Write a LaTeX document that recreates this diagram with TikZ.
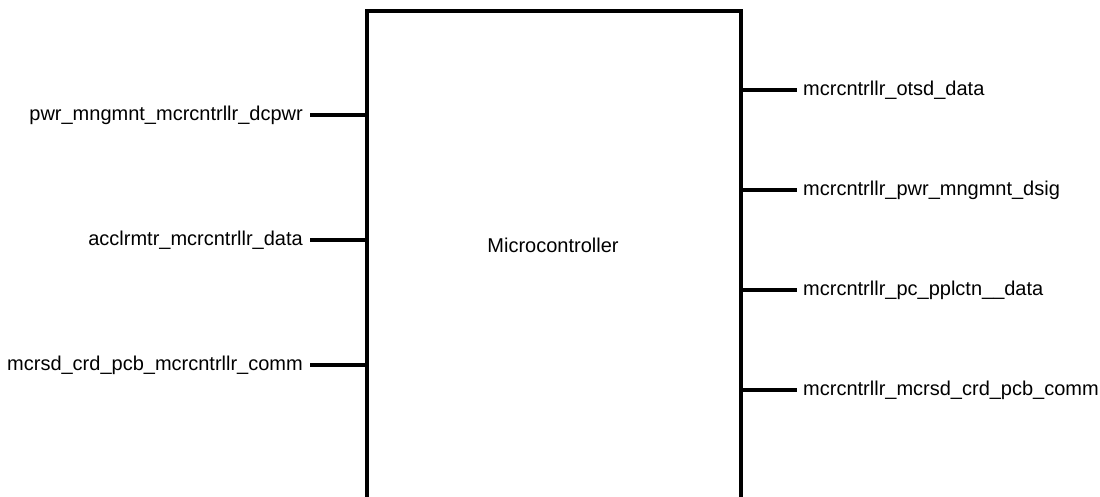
\documentclass[tikz,border=0pt]{standalone}
\usepackage{fontspec}
\setmainfont{Liberation Sans}
\usetikzlibrary{positioning}

\begin{document}
\begin{tikzpicture}[x=1pt,y=-1pt,font=\fontsize{20}{23}\selectfont,
  block/.style={draw,line width=4pt,outer sep=0pt,anchor=north west},
  port/.style={line width=4pt},
  sig/.style={inner sep=0pt}]
  \useasboundingbox (0,0) rectangle (1100,497);
  \clip (0,0) rectangle (1100,497);
  \node[block,minimum width=374pt,minimum height=540pt] (mcu) at (367,11) {};
  \node (mcuname) at (553,245) {Microcontroller};
  % inputs
  \coordinate (inA) at (310,115);
  \coordinate (inB) at (310,240);
  \coordinate (inC) at (310,365);
  \draw[port] (inA) -- (inA -| mcu.west);
  \draw[port] (inB) -- (inB -| mcu.west);
  \draw[port] (inC) -- (inC -| mcu.west);
  \node[sig,left=7pt of inA] (pwrin) {pwr\_mngmnt\_mcrcntrllr\_dcpwr};
  \node[sig,left=7pt of inB] (accin) {acclrmtr\_mcrcntrllr\_data};
  \node[sig,left=7pt of inC] (sdin) {mcrsd\_crd\_pcb\_mcrcntrllr\_comm};
  % outputs
  \coordinate (outA) at (797,90);
  \coordinate (outB) at (797,190);
  \coordinate (outC) at (797,290);
  \coordinate (outD) at (797,390);
  \draw[port] (outA -| mcu.east) -- (outA);
  \draw[port] (outB -| mcu.east) -- (outB);
  \draw[port] (outC -| mcu.east) -- (outC);
  \draw[port] (outD -| mcu.east) -- (outD);
  \node[sig,right=6pt of outA] (otsdout) {mcrcntrllr\_otsd\_data};
  \node[sig,right=6pt of outB] (pwrout) {mcrcntrllr\_pwr\_mngmnt\_dsig};
  \node[sig,right=6pt of outC] (pcout) {mcrcntrllr\_pc\_pplctn\_\_data};
  \node[sig,right=6pt of outD] (sdout) {mcrcntrllr\_mcrsd\_crd\_pcb\_comm};
\end{tikzpicture}
\end{document}
